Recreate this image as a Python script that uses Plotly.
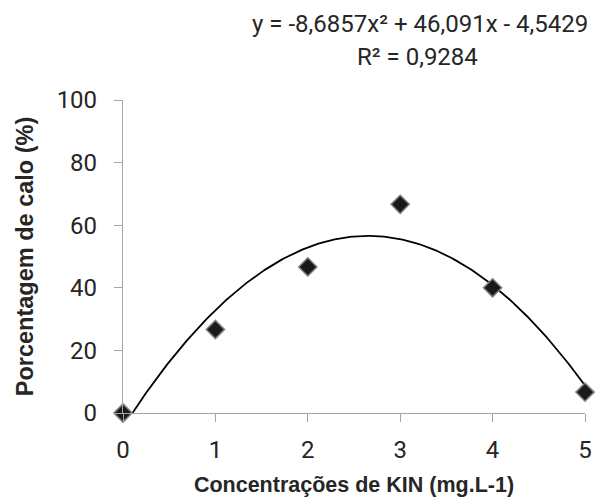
import plotly.graph_objects as go
import numpy as np

# Data
conc = [0, 1, 2, 3, 4, 5]
pct_calo = [0, 26.67, 46.67, 66.67, 40.0, 6.67]
coef = [-8.6857, 46.091, -4.5429]  # quadratic trendline coefficients (a, b, c)
y_ticks = [0, 20, 40, 60, 80, 100]
x_ticks = [0, 1, 2, 3, 4, 5]
eq_text = "y = -8,6857x² + 46,091x - 4,5429"
r2_text = "R² = 0,9284"
x_title = "Concentrações de KIN (mg.L-1)"
y_title = "Porcentagem de calo (%)"

xs = np.linspace(0, 5, 300)
ys = coef[0] * xs**2 + coef[1] * xs + coef[2]

W, H = 601, 504
L, R, T, B = 123, 9, 100, 91

txt_color = "#262626"
axis_color = "#a6a6a6"
tick_font = dict(family="Roboto, Liberation Sans, sans-serif", size=24, color=txt_color)
x_title_font = dict(family="Liberation Sans, sans-serif", size=21.5, color=txt_color)
y_title_font = dict(family="Liberation Sans, sans-serif", size=23.5, color=txt_color)
eq_font = dict(family="Roboto, Liberation Sans, sans-serif", size=24, color=txt_color)

fig = go.Figure()
fig.add_trace(go.Scatter(x=xs, y=ys, mode="lines",
                         line=dict(color="#000000", width=1.8),
                         hoverinfo="skip", showlegend=False))
fig.add_trace(go.Scatter(x=conc, y=pct_calo, mode="markers",
                         marker=dict(symbol="diamond", size=14, color="#1a1a1a",
                                     line=dict(color="#7f7f7f", width=1.5)),
                         cliponaxis=False, showlegend=False))

fig.update_layout(
    width=W, height=H,
    margin=dict(l=L, r=R, t=T, b=B, pad=0),
    paper_bgcolor="white", plot_bgcolor="white",
    xaxis=dict(range=[0, 5], tickvals=x_ticks, ticktext=[str(v) for v in x_ticks],
               showgrid=False, zeroline=False, showline=True, linecolor=axis_color,
               linewidth=1.2, ticks="outside", ticklen=8, tickcolor=axis_color,
               tickwidth=1.2, tickfont=tick_font, ticklabelstandoff=7,
               title=dict(text="<b>" + x_title + "</b>", font=x_title_font, standoff=14)),
    yaxis=dict(range=[0, 100], tickvals=y_ticks, ticktext=[str(v) for v in y_ticks],
               showgrid=False, zeroline=False, showline=True, linecolor=axis_color,
               linewidth=1.2, ticks="outside", ticklen=8, tickcolor=axis_color,
               tickwidth=1.2, tickfont=tick_font, ticklabelstandoff=12,
               title=dict(text="<b>" + y_title + "</b>", font=y_title_font, standoff=16)),
    annotations=[
        dict(text=eq_text, xref="paper", yref="paper",
             x=(424 - L) / (W - L - R), y=(413 - 24) / (H - T - B),
             xanchor="center", yanchor="middle", showarrow=False, font=eq_font),
        dict(text=r2_text, xref="paper", yref="paper",
             x=(422 - L) / (W - L - R), y=(413 - 57) / (H - T - B),
             xanchor="center", yanchor="middle", showarrow=False, font=eq_font),
    ],
)

fig.write_html("out.html")
